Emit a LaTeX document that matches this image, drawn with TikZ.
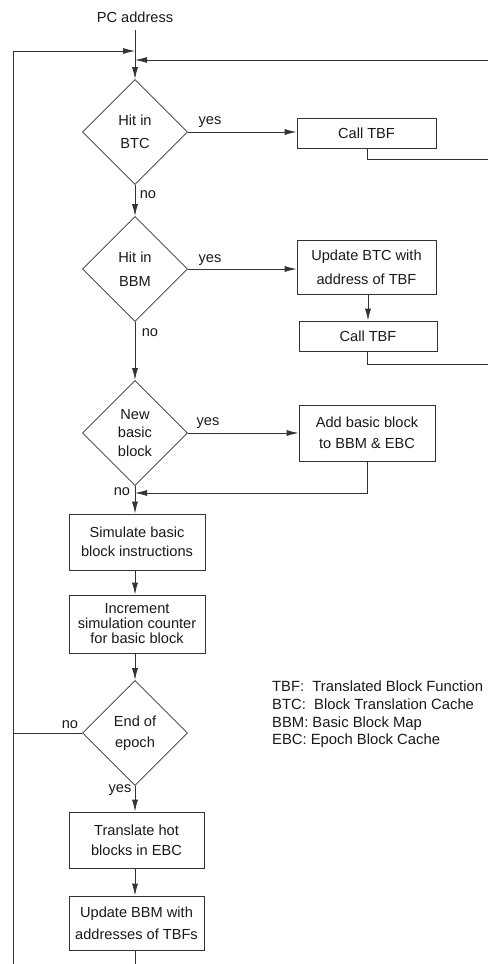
\documentclass[tikz,border=0pt]{standalone}
\usepackage{fontspec}
\setmainfont{Liberation Sans}
\usetikzlibrary{shapes.geometric,arrows.meta}
\begin{document}
\begin{tikzpicture}[x=1pt,y=-1pt,
  font=\fontsize{14.6}{17}\selectfont,
  every node/.style={inner sep=0pt, text=black!90},
  line/.style={draw=black!80, line width=0.8pt},
  arr/.style={line, -{Latex[length=12pt,width=6pt]}},
  decision/.style={diamond, draw=black!80, line width=0.8pt, minimum width=105pt, minimum height=105pt, align=center},
  proc/.style={rectangle, draw=black!80, line width=0.8pt, align=center},
  lbl/.style={inner sep=0pt}
]
\useasboundingbox (0,0) rectangle (488,964);

% nodes
\node (pc) at (135,17) {PC address};
\coordinate (pcend) at (135,30);
\coordinate (j1) at (135,51);
\coordinate (j2) at (135,60);

\node[decision, font=\fontsize{14.6}{23}\selectfont] (d1) at (135,132) {Hit in\\BTC};
\node[proc, minimum width=139pt, minimum height=30pt] (c1) at (366.5,133) {Call TBF};

\node[decision, font=\fontsize{14.6}{24}\selectfont] (d2) at (135,269) {Hit in\\BBM};
\node[proc, minimum width=139pt, minimum height=54pt, font=\fontsize{14.6}{24}\selectfont] (u1) at (366.5,267) {Update BTC with\\address of TBF};
\node[proc, minimum width=138pt, minimum height=30pt] (c2) at (368,336) {Call TBF};

\node[decision, font=\fontsize{14.6}{18.5}\selectfont] (d3) at (135,433) {New\\basic\\block};
\node[proc, minimum width=136pt, minimum height=56pt, font=\fontsize{14.6}{21}\selectfont] (a1) at (367,433) {Add basic block\\to BBM \& EBC};

\node[proc, minimum width=136pt, minimum height=56pt, font=\fontsize{14.6}{19}\selectfont] (s1) at (137,542) {Simulate basic\\block instructions};
\node[proc, minimum width=136pt, minimum height=58pt, font=\fontsize{14.6}{15}\selectfont] (i1) at (137,624) {Increment\\simulation counter\\for basic block};

\node[decision, font=\fontsize{14.6}{21}\selectfont] (d4) at (135,733) {End of\\epoch};
\node[proc, minimum width=135pt, minimum height=56pt, font=\fontsize{14.6}{20}\selectfont] (t1) at (136.5,840) {Translate hot\\blocks in EBC};
\node[proc, minimum width=135pt, minimum height=54pt, font=\fontsize{14.6}{22}\selectfont] (u2) at (136.5,923) {Update BBM with\\addresses of TBFs};

\node[anchor=west, align=left, font=\fontsize{14.8}{17.7}\selectfont] (leg) at (272,714.5)
  {TBF:\ \ Translated Block Function\\BTC:\ \ Block Translation Cache\\BBM: Basic Block Map\\EBC: Epoch Block Cache};

% labels
\node[lbl] (y1) at (210,122) {yes};
\node[lbl] (y2) at (210,260) {yes};
\node[lbl] (y3) at (208,423) {yes};
\node[lbl] (y4) at (120,790) {yes};
\node[lbl] (n1) at (148,195) {no};
\node[lbl] (n2) at (150,333) {no};
\node[lbl] (n3) at (122,492) {no};
\node[lbl] (n4) at (70,725) {no};

% helper coordinates
\coordinate (r1a) at (367,159);
\coordinate (r1b) at (488,159);
\coordinate (r2a) at (367,364);
\coordinate (r2b) at (488,364);
\coordinate (rtop) at (488,60);
\coordinate (m3) at (367,493);
\coordinate (j3) at (135,493);
\coordinate (lb) at (13,964);
\coordinate (lt) at (13,51);
\coordinate (l4) at (13,733);
\coordinate (bot) at (135,964);

% connectors
\draw[line] (pcend) -- (j2);
\draw[arr] (lb) -- (lt) -- (j1);
\draw[arr] (rtop) -- (j2);
\draw[arr] (j2) -- (d1.north);
\draw[arr] (d1.east) -- (d1.east -| c1.west);
\draw[line] (c1.south -| r1a) -- (r1a) -- (r1b);
\draw[arr] (d1.south) -- (d2.north);
\draw[arr] (d2.east) -- (d2.east -| u1.west);
\draw[arr] (u1.south -| c2.north) -- (c2.north);
\draw[line] (c2.south -| r2a) -- (r2a) -- (r2b);
\draw[arr] (d2.south) -- (d3.north);
\draw[arr] (d3.east) -- (d3.east -| a1.west);
\draw[arr] (a1.south -| m3) -- (m3) -- (j3);
\draw[arr] (d3.south) -- (s1.north -| d3.south);
\draw[arr] (s1.south -| d3.south) -- (i1.north -| d3.south);
\draw[arr] (i1.south -| d4.north) -- (d4.north);
\draw[line] (d4.west) -- (l4);
\draw[arr] (d4.south) -- (t1.north -| d4.south);
\draw[arr] (t1.south -| d4.south) -- (u2.north -| d4.south);
\draw[line] (u2.south -| bot) -- (bot);
\end{tikzpicture}
\end{document}
